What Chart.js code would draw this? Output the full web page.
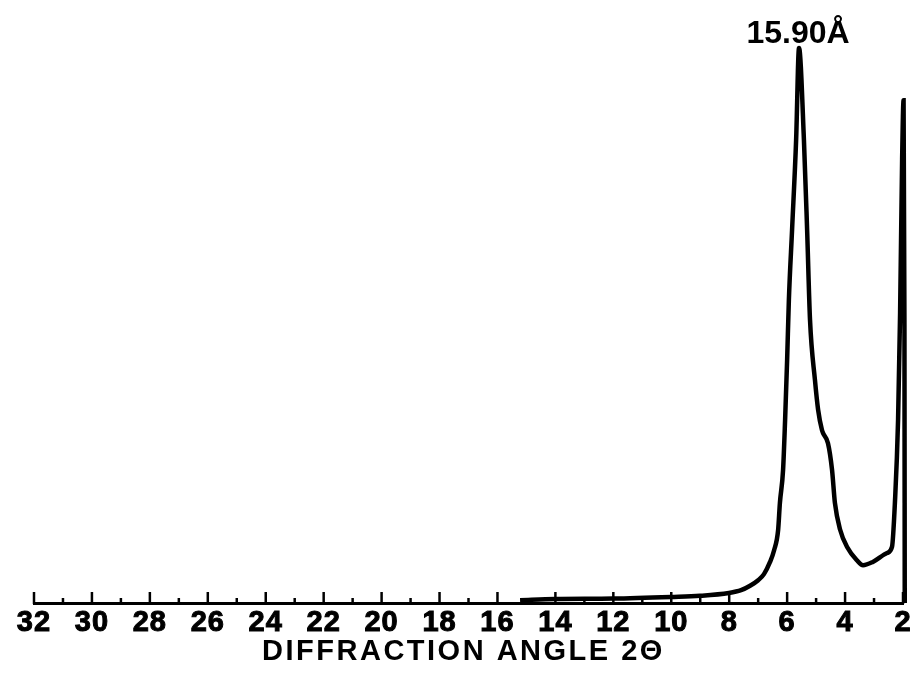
<!DOCTYPE html>
<html>
<head>
<meta charset="utf-8">
<title>Diffraction pattern</title>
<script src="https://cdn.jsdelivr.net/npm/chart.js@4.4.1/dist/chart.umd.min.js"></script>
<style>
  html, body { margin: 0; padding: 0; background: #ffffff; }
  #wrap { width: 919px; height: 684px; position: relative; }
</style>
</head>
<body>
<div id="wrap"><canvas id="chart" width="919" height="684"></canvas></div>
<script>
// Diffraction angle 2θ (degrees) along the trace, high angle to low angle
const twoTheta = [
  15.22, 14.01, 12.01, 10.01, 9.01, 8.01, 7.59, 7.28, 7.00, 6.80,
  6.59, 6.45, 6.31, 6.25, 6.14, 6.07, 6.00, 5.94, 5.83, 5.69,
  5.59,
  5.42, 5.31, 5.21, 5.04, 4.93, 4.80, 4.76, 4.59, 4.45, 4.35,
  4.17, 3.93, 3.59, 3.38, 3.04, 2.55, 2.38, 2.28, 2.17, 2.10,
  2.03, 1.98, 1.95, 1.94
];
// Relative intensity (strongest reflection = 100)
const intensity = [
  0.5, 0.7, 0.8, 1.1, 1.3, 1.8, 2.3, 3.1, 4.1, 5.2,
  7.4, 9.5, 13.2, 18.0, 24.0, 33.0, 43.8, 54.6, 67.2, 83.4,
  100,
  83.4, 67.2, 51.0, 40.2, 34.8, 31.2, 30.6, 28.8, 24.0, 18.0,
  13.2, 10.1, 7.7, 6.8, 7.4, 9.0, 10.1, 18.0, 33.0, 52.3,
  80.0, 90.6, 50.0, 0
];
// d-spacing of the strongest reflection
const peakLabel = '15.90Å';
// Axis range and tick labels
const angleMin = 2;
const angleMax = 32;
const angleLabels = ['2','4','6','8','10','12','14','16','18','20','22','24','26','28','30','32'];
const axisTitle = 'DIFFRACTION ANGLE 2Θ';

const points = twoTheta.map((t, i) => ({ x: t, y: intensity[i] }));
const FONT = '"Liberation Sans", Arial, sans-serif';

// Slightly open letter spacing for the axis numbers
const spacing = {
  id: 'spacing',
  beforeDraw(chart) { chart.ctx.letterSpacing = '1px'; },
  afterDraw(chart) { chart.ctx.letterSpacing = '0px'; }
};

// Upward tick marks: long at labelled (even) angles, short in between,
// plus the axis title under the numbers
const tickMarks = {
  id: 'tickMarks',
  afterDraw(chart) {
    const xs = chart.scales.x;
    const ctx = chart.ctx;
    const base = xs.top + 1;
    ctx.save();
    ctx.strokeStyle = '#000';
    ctx.lineWidth = 2.5;
    ctx.lineCap = 'butt';
    for (let v = angleMin; v <= angleMax; v++) {
      const len = (v % 2 === 0) ? 12 : 6;
      const px = xs.getPixelForValue(v);
      ctx.beginPath();
      ctx.moveTo(px, base);
      ctx.lineTo(px, base - len);
      ctx.stroke();
    }
    ctx.letterSpacing = '2.5px';
    ctx.fillStyle = '#000';
    ctx.font = 'bold 29px ' + FONT;
    ctx.textAlign = 'center';
    ctx.textBaseline = 'alphabetic';
    ctx.fillText(axisTitle, (xs.left + xs.right) / 2 - 5, xs.top + 57);
    ctx.restore();
  }
};

// d-spacing label above the highest point of the trace
const peakText = {
  id: 'peakText',
  afterDatasetsDraw(chart) {
    const meta = chart.getDatasetMeta(0);
    let best = 0;
    intensity.forEach((v, i) => { if (v > intensity[best]) best = i; });
    const pt = meta.data[best];
    const ctx = chart.ctx;
    ctx.save();
    ctx.letterSpacing = '0px';
    ctx.fillStyle = '#000';
    ctx.font = 'bold 32px ' + FONT;
    ctx.textAlign = 'center';
    ctx.textBaseline = 'alphabetic';
    ctx.fillText(peakLabel, pt.x - 1, pt.y - 5);
    ctx.restore();
  }
};

new Chart(document.getElementById('chart'), {
  type: 'line',
  data: {
    datasets: [{
      data: points,
      borderColor: '#000',
      borderWidth: 4.5,
      pointRadius: 0,
      fill: false,
      cubicInterpolationMode: 'monotone',
      clip: false
    }]
  },
  options: {
    responsive: false,
    animation: false,
    devicePixelRatio: 1,
    layout: { padding: { left: 34, right: 16, top: 48, bottom: 0 } },
    plugins: {
      legend: { display: false },
      tooltip: { enabled: false }
    },
    scales: {
      x: {
        type: 'linear',
        reverse: true,
        min: angleMin,
        max: angleMax,
        afterFit(scale) { scale.height = 81; },
        grid: { display: false, drawTicks: false },
        border: { display: true, color: '#000', width: 3 },
        ticks: {
          stepSize: 1,
          autoSkip: false,
          maxRotation: 0,
          padding: 3,
          color: '#000',
          textStrokeColor: '#000',
          textStrokeWidth: 1,
          font: { family: FONT, size: 29, weight: 'bold' },
          callback(value) {
            const s = String(value);
            return angleLabels.includes(s) ? s : '';
          }
        },
        title: { display: false, text: axisTitle }
      },
      y: {
        display: false,
        min: 0,
        max: 100
      }
    }
  },
  plugins: [spacing, tickMarks, peakText]
});
</script>
</body>
</html>
